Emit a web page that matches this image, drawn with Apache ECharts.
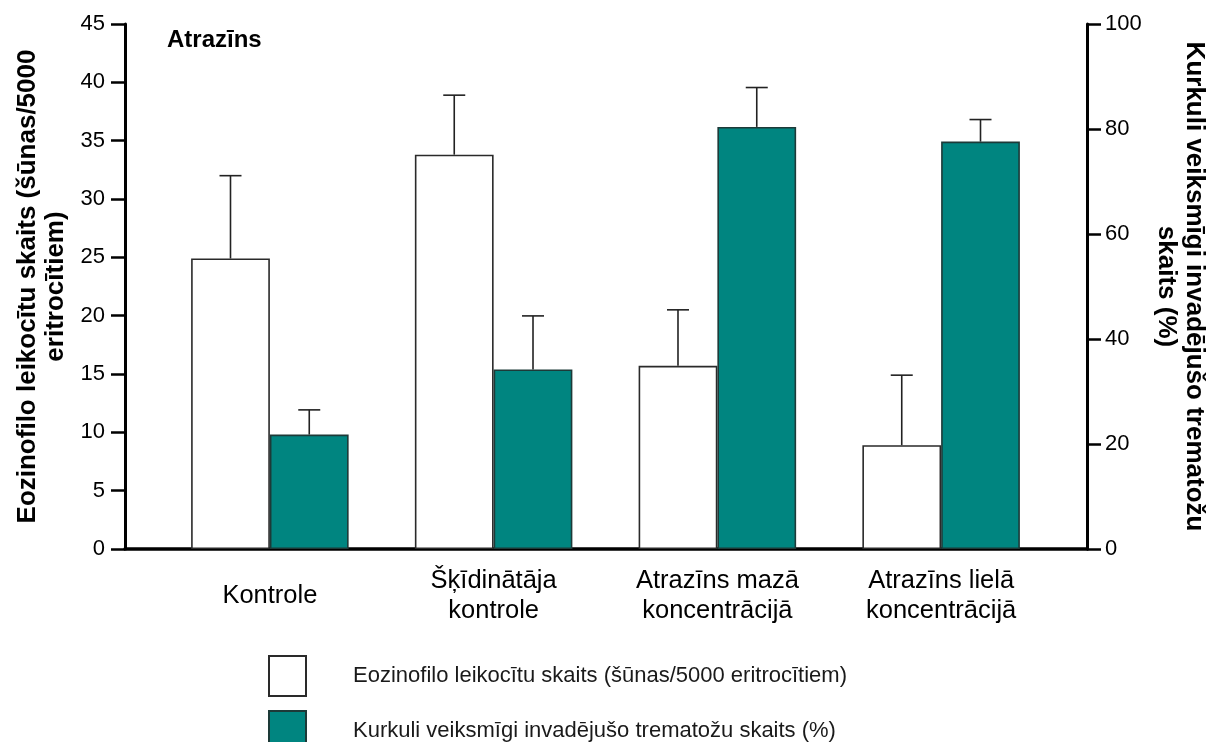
<!DOCTYPE html>
<html>
<head>
<meta charset="utf-8">
<script src="https://cdn.jsdelivr.net/npm/echarts@6/dist/echarts.min.js"></script>
<style>
  html, body { margin: 0; padding: 0; background: #ffffff; }
  #chart { width: 1206px; height: 742px; }
</style>
</head>
<body>
<div id="chart"></div>
<script>
// Categories (treatment groups)
const categories = ['Kontrole', 'Šķīdinātāja\nkontrole', 'Atrazīns mazā\nkoncentrācijā', 'Atrazīns lielā\nkoncentrācijā'];

// Eosinophil count (cells / 5000 erythrocytes): mean and upper error limit
const eosMean  = [24.9, 33.8, 15.7, 8.9];
const eosUpper = [32.0, 38.9, 20.5, 14.9];

// Successfully invading trematodes (%): mean and upper error limit
const troMean  = [21.8, 34.2, 80.4, 77.6];
const troUpper = [26.5, 44.4, 87.9, 81.8];

// Axis tick settings
const leftMax = 45, leftStep = 5;
const rightMax = 100, rightStep = 20;

const seriesNames = [
  'Eozinofilo leikocītu skaits (šūnas/5000 eritrocītiem)',
  'Kurkuli veiksmīgi invadējušo trematožu skaits (%)'
];

const FONT = '"Liberation Sans", Arial, sans-serif';
const TEAL = '#008580';
const BAR_FRACTION = 0.352;

const chart = echarts.init(document.getElementById('chart'), null, { renderer: 'canvas' });

// Upper-only error whisker with a short cap; side = -1 (left bar) or +1 (right bar)
function whisker(side) {
  return function (params, api) {
    const idx = api.value(0);
    const base = api.coord([idx, api.value(1)]);
    const top = api.coord([idx, api.value(2)]);
    const band = api.size([1, 0])[0];
    const x = base[0] + side * band * BAR_FRACTION / 2;
    const cap = 11;
    const style = { stroke: '#222', lineWidth: 1.6, fill: null };
    return {
      type: 'group',
      children: [
        { type: 'line', shape: { x1: x, y1: base[1], x2: x, y2: top[1] }, style: style },
        { type: 'line', shape: { x1: x - cap, y1: top[1], x2: x + cap, y2: top[1] }, style: style }
      ]
    };
  };
}

const tickText = { color: '#000', fontFamily: FONT, fontSize: 22 };

const option = {
  backgroundColor: '#ffffff',
  animation: false,
  textStyle: { fontFamily: FONT },
  title: {
    text: 'Atrazīns',
    left: 167, top: 28, padding: 0,
    textStyle: { fontFamily: FONT, fontSize: 24, fontWeight: 'bold', color: '#000' }
  },
  legend: {
    orient: 'vertical',
    left: 268, top: 655, height: 160, padding: 0,
    itemWidth: 37, itemHeight: 40, itemGap: 13,
    icon: 'rect',
    selectedMode: false,
    data: seriesNames,
    textStyle: { fontFamily: FONT, fontSize: 22, color: '#1a1a1a', padding: [0, 0, 0, 42] }
  },
  grid: [
    // frame holding both value axes and the baseline
    { left: 125, right: 119, top: 24, bottom: 193, containLabel: false, outerBoundsMode: 'none' },
    // inner band in which the grouped bars sit
    { left: 158, right: 153, top: 24, bottom: 193, containLabel: false, outerBoundsMode: 'none' }
  ],
  xAxis: [
    {
      gridIndex: 0, type: 'value', min: 0, max: 1,
      axisLine: { show: true, lineStyle: { color: '#000', width: 3.5 } },
      axisTick: { show: false }, axisLabel: { show: false }, splitLine: { show: false }
    },
    {
      gridIndex: 1, type: 'category', data: categories,
      axisLine: { show: false }, axisTick: { show: false }, splitLine: { show: false },
      axisLabel: {
        color: '#000', fontFamily: FONT, fontSize: 25.5, lineHeight: 30,
        margin: 47, verticalAlign: 'middle', align: 'center', interval: 0
      }
    }
  ],
  yAxis: [
    {
      gridIndex: 0, type: 'value', position: 'left',
      min: 0, max: leftMax, interval: leftStep,
      axisLine: { show: true, lineStyle: { color: '#000', width: 3 } },
      axisTick: { show: true, inside: false, length: 14, lineStyle: { color: '#000', width: 2.5 } },
      axisLabel: Object.assign({ margin: 20 }, tickText),
      splitLine: { show: false },
      name: 'Eozinofilo leikocītu skaits (šūnas/5000\neritrocītiem)',
      nameLocation: 'middle', nameRotate: 90, nameGap: 55,
      nameTextStyle: { fontFamily: FONT, fontSize: 26, fontWeight: 'bold', color: '#000', lineHeight: 28, align: 'center' }
    },
    {
      gridIndex: 0, type: 'value', position: 'right',
      min: 0, max: rightMax, interval: rightStep,
      axisLine: { show: true, lineStyle: { color: '#000', width: 3 } },
      axisTick: { show: true, inside: false, length: 14, lineStyle: { color: '#000', width: 2.5 } },
      axisLabel: Object.assign({ margin: 18 }, tickText),
      splitLine: { show: false },
      name: 'Kurkuli veiksmīgi invadējušo trematožu\nskaits (%)',
      nameLocation: 'middle', nameRotate: -90, nameGap: 59,
      nameTextStyle: { fontFamily: FONT, fontSize: 26, fontWeight: 'bold', color: '#000', lineHeight: 28, align: 'center' }
    },
    // hidden twins of the two scales inside the bar band
    { gridIndex: 1, type: 'value', min: 0, max: leftMax, show: false, splitLine: { show: false } },
    { gridIndex: 1, type: 'value', min: 0, max: rightMax, show: false, splitLine: { show: false } }
  ],
  series: [
    {
      name: seriesNames[0], type: 'bar', xAxisIndex: 1, yAxisIndex: 2,
      data: eosMean, barWidth: (BAR_FRACTION * 100) + '%', barGap: '0%',
      itemStyle: { color: '#ffffff', borderColor: '#2a2a2a', borderWidth: 1.6 },
      emphasis: { disabled: true }
    },
    {
      name: seriesNames[1], type: 'bar', xAxisIndex: 1, yAxisIndex: 3,
      data: troMean, barWidth: (BAR_FRACTION * 100) + '%', barGap: '0%',
      itemStyle: { color: TEAL, borderColor: '#1d3a38', borderWidth: 1.6 },
      emphasis: { disabled: true }
    },
    {
      type: 'custom', xAxisIndex: 1, yAxisIndex: 2, z: 5,
      renderItem: whisker(-1),
      data: eosMean.map((v, i) => [i, v, eosUpper[i]])
    },
    {
      type: 'custom', xAxisIndex: 1, yAxisIndex: 3, z: 5,
      renderItem: whisker(1),
      data: troMean.map((v, i) => [i, v, troUpper[i]])
    }
  ]
};

chart.setOption(option);
</script>
</body>
</html>
